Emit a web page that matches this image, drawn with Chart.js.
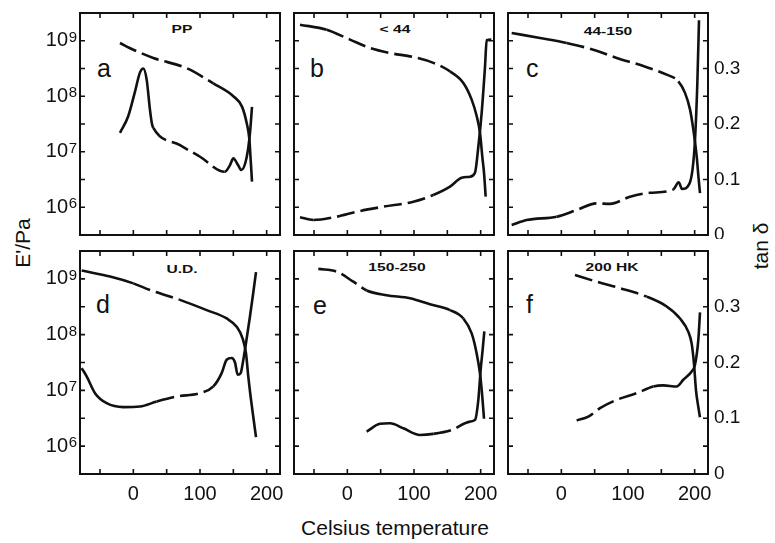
<!DOCTYPE html>
<html>
<head>
<meta charset="utf-8">
<script src="https://cdn.jsdelivr.net/npm/chart.js@4.4.1/dist/chart.umd.min.js"></script>
<style>
  html, body { margin: 0; padding: 0; background: #fff; }
  #page { position: relative; width: 775px; height: 543px; overflow: hidden; font-family: "Liberation Sans", Arial, sans-serif; color: #111; }
  canvas { position: absolute; }
  .lbl { position: absolute; white-space: nowrap; line-height: 1; }
  .letter { font-size: 25px; }
  .title { font-size: 13px; font-weight: bold; transform: translateX(-50%) scale(1.2, 0.8); }
  .axt { font-size: 21px; transform: translate(-50%, -50%); }
  .rot { transform: translate(-50%, -50%) rotate(-90deg); }
</style>
</head>
<body>
<div id="page">
  <div class="lbl letter" style="left:97px;top:56px">a</div>
  <div class="lbl letter" style="left:310px;top:56px">b</div>
  <div class="lbl letter" style="left:526px;top:56px">c</div>
  <div class="lbl letter" style="left:96px;top:292px">d</div>
  <div class="lbl letter" style="left:313px;top:293px">e</div>
  <div class="lbl letter" style="left:526px;top:292px">f</div>

  <div class="lbl title" style="left:182px;top:23px">PP</div>
  <div class="lbl title" style="left:395px;top:23px">&lt; 44</div>
  <div class="lbl title" style="left:608px;top:25px">44-150</div>
  <div class="lbl title" style="left:182px;top:263px">U.D.</div>
  <div class="lbl title" style="left:397px;top:261px">150-250</div>
  <div class="lbl title" style="left:612px;top:261px">200 HK</div>

  <div class="lbl axt rot" style="left:22px;top:243px">E'/Pa</div>
  <div class="lbl axt rot" style="left:760px;top:246px">tan δ</div>
  <div class="lbl axt" style="left:395px;top:527px">Celsius temperature</div>
</div>
<script>
// axis ticks
const xTicks = [0, 100, 200];
const xMarks = [-50, 0, 50, 100, 150, 200];
const modulusTicks = [1e6, 1e7, 1e8, 1e9];
const modulusMarks = [1e6, 3.16e6, 1e7, 3.16e7, 1e8, 3.16e8, 1e9];
const tanTicks = [0, 0.1, 0.2, 0.3];

// a: PP
const aTempE = [-20, 0, 30, 80, 120, 150, 163, 170, 174, 176, 178];
const aModulus = [9.1e8, 6.9e8, 4.9e8, 3.2e8, 1.7e8, 1.0e8, 6.5e7, 3.3e7, 1.7e7, 7.2e6, 2.9e6];
const aTempTan = [-20, -8, 2, 10, 15, 20, 25, 28, 30, 70, 100, 137, 145, 150, 157, 162, 170, 175, 178];
const aTan = [0.184, 0.213, 0.256, 0.293, 0.300, 0.28, 0.225, 0.20, 0.193, 0.162, 0.141, 0.114, 0.126, 0.138, 0.126, 0.117, 0.14, 0.184, 0.231];

// b: < 44
const bTempE = [-71, -31, 4, 34, 64, 99, 129, 154, 174, 186.5, 194, 199, 202.5, 205, 207.5];
const bModulus = [1.95e9, 1.58e9, 1.05e9, 7.4e8, 6.0e8, 5.1e8, 4.0e8, 2.8e8, 1.74e8, 8.7e7, 4.4e7, 2.2e7, 8.1e6, 4.2e6, 1.55e6];
const bTempTan = [-71, -51, -16, 14, 54, 99, 129, 154, 171.5, 184, 191.5, 196.5, 201.5, 206.5, 209, 216];
const bTan = [0.032, 0.027, 0.033, 0.042, 0.051, 0.06, 0.072, 0.087, 0.103, 0.105, 0.112, 0.159, 0.22, 0.303, 0.351, 0.352];

// c: 44-150
const cTempE = [-74.5, -32, 8, 48, 83, 123, 158, 175.5, 185.5, 193, 198, 203, 206, 208];
const cModulus = [1.38e9, 1.12e9, 9.1e8, 6.9e8, 4.9e8, 3.5e8, 2.45e8, 1.86e8, 1.15e8, 5.8e7, 2.5e7, 8.3e6, 3.2e6, 1.8e6];
const cTempTan = [-74.5, -52, -7, 23, 53, 73, 103, 133, 168, 176, 181, 192, 197, 200.5, 204, 206.5];
const cTan = [0.018, 0.027, 0.033, 0.045, 0.057, 0.056, 0.069, 0.076, 0.082, 0.095, 0.083, 0.092, 0.12, 0.171, 0.273, 0.387];

// d: U.D.
const dTempE = [-77.5, -35, 0, 25, 70, 110, 140, 155, 164, 169, 172.5, 176, 180, 184];
const dModulus = [1.41e9, 1.1e9, 8.3e8, 6.3e8, 4.2e8, 2.75e8, 1.95e8, 1.38e8, 8.5e7, 4.6e7, 1.74e7, 7.6e6, 3.3e6, 1.45e6];
const dTempTan = [-77.5, -70, -57.5, -40, -15, 10, 35, 65, 100, 120, 132.5, 140, 147.5, 152.5, 156.5, 161, 165, 169, 175, 180, 184];
const dTan = [0.19, 0.175, 0.145, 0.127, 0.12, 0.121, 0.13, 0.139, 0.145, 0.157, 0.181, 0.205, 0.208, 0.2, 0.178, 0.181, 0.205, 0.235, 0.283, 0.326, 0.362];

// e: 150-250
const eTempE = [-43.5, -16, 9, 29, 59, 94, 124, 154, 174, 186.5, 194, 199, 202.5, 205];
const eModulus = [1.51e9, 1.35e9, 8.9e8, 6.2e8, 5.1e8, 4.5e8, 3.5e8, 2.75e8, 1.95e8, 1.05e8, 4.6e7, 2.0e7, 7.6e6, 3.1e6];
const eTempTan = [29, 49, 64, 84, 109, 129, 156.5, 184, 191.5, 196.5, 200, 203, 205.5];
const eTan = [0.076, 0.09, 0.091, 0.082, 0.07, 0.072, 0.079, 0.094, 0.097, 0.133, 0.187, 0.223, 0.256];

// f: 200 HK
const fTempE = [20.5, 53, 88, 128, 158, 178, 190.5, 195.5, 199, 202, 205.5, 208];
const fModulus = [1.17e9, 8.9e8, 6.8e8, 4.8e8, 3.2e8, 1.95e8, 1.12e8, 6.9e7, 3.0e7, 1.0e7, 5.0e6, 3.3e6];
const fTempTan = [23, 40.5, 58, 83, 113, 138, 153, 173, 183, 195.5, 200.5, 205.5, 208];
const fTan = [0.096, 0.103, 0.118, 0.133, 0.145, 0.157, 0.159, 0.157, 0.169, 0.184, 0.196, 0.241, 0.29];

const panels = [
  { box: [80, 13, 280, 235], left: true, right: false, bottom: false, eT: aTempE, eV: aModulus, tT: aTempTan, tV: aTan, eDash: [[-20, 130]], tDash: [[30, 137]] },
  { box: [294, 13, 494, 235], left: false, right: false, bottom: false, eT: bTempE, eV: bModulus, tT: bTempTan, tV: bTan, eDash: [[-15, 155]], tDash: [[-40, 135]] },
  { box: [508, 13, 708, 235], left: false, right: true, bottom: false, eT: cTempE, eV: cModulus, tT: cTempTan, tV: cTan, eDash: [[5, 175]], tDash: [[-15, 165]] },
  { box: [80, 251, 280, 474], left: true, right: false, bottom: true, eT: dTempE, eV: dModulus, tT: dTempTan, tV: dTan, eDash: [[5, 75]], tDash: [[25, 110]] },
  { box: [294, 251, 494, 474], left: false, right: false, bottom: true, eT: eTempE, eV: eModulus, tT: eTempTan, tV: eTan, eDash: [[-45, 30], [150, 178]], tDash: [[140, 180]] },
  { box: [508, 251, 708, 474], left: false, right: true, bottom: true, eT: fTempE, eV: fModulus, tT: fTempTan, tV: fTan, eDash: [[20, 130]], tDash: [[20, 130]] },
];

const INK = '#111';
const FONT = 'Liberation Sans, Arial, sans-serif';

// frame, inward tick marks, and the exponent of the 10^n labels
const framePlugin = {
  id: 'frame',
  afterDraw(chart) {
    const { ctx, chartArea: a, scales } = chart;
    ctx.save();
    ctx.strokeStyle = INK;
    ctx.lineWidth = 2;
    ctx.strokeRect(a.left, a.top, a.right - a.left, a.bottom - a.top);
    ctx.lineWidth = 1.6;
    ctx.beginPath();
    xMarks.forEach(v => {
      const px = scales.x.getPixelForValue(v);
      ctx.moveTo(px, a.bottom); ctx.lineTo(px, a.bottom - 5);
      ctx.moveTo(px, a.top); ctx.lineTo(px, a.top + 5);
    });
    modulusMarks.forEach(v => {
      const py = scales.y.getPixelForValue(v);
      ctx.moveTo(a.left, py); ctx.lineTo(a.left + 5, py);
      ctx.moveTo(a.right, py); ctx.lineTo(a.right - 5, py);
    });
    ctx.stroke();
    if (chart.options.scales.y.ticks.display) {
      ctx.fillStyle = INK;
      ctx.font = '15px ' + FONT;
      ctx.textAlign = 'right';
      ctx.textBaseline = 'alphabetic';
      modulusTicks.forEach(v => {
        const py = scales.y.getPixelForValue(v);
        ctx.fillText(String(Math.round(Math.log10(v))), a.left - 3, py + 1);
      });
    }
    ctx.restore();
  }
};

function dashed(ranges) {
  return ctx => {
    const mid = (ctx.p0.parsed.x + ctx.p1.parsed.x) / 2;
    return ranges.some(([lo, hi]) => mid >= lo && mid <= hi) ? [18, 6] : undefined;
  };
}

function line(xs, ys, axis, ranges) {
  return {
    data: xs.map((x, i) => ({ x, y: ys[i] })),
    yAxisID: axis,
    borderColor: INK,
    borderWidth: 2.6,
    pointRadius: 0,
    fill: false,
    cubicInterpolationMode: 'monotone',
    segment: { borderDash: dashed(ranges) },
  };
}

const page = document.getElementById('page');
panels.forEach(p => {
  const [x0, y0, x1, y1] = p.box;
  const L = p.left ? 75 : 4, R = p.right ? 50 : 4, T = 4, B = p.bottom ? 45 : 4;
  const cv = document.createElement('canvas');
  cv.width = x1 - x0 + L + R;
  cv.height = y1 - y0 + T + B;
  cv.style.left = (x0 - L) + 'px';
  cv.style.top = (y0 - T) + 'px';
  page.appendChild(cv);

  const tickFont = { family: FONT, size: 20 };
  new Chart(cv, {
    type: 'line',
    data: { datasets: [line(p.eT, p.eV, 'y', p.eDash), line(p.tT, p.tV, 'y2', p.tDash)] },
    options: {
      responsive: false,
      animation: false,
      events: [],
      layout: { padding: { top: T, left: 0, right: 0, bottom: 0 } },
      plugins: { legend: { display: false }, tooltip: { enabled: false } },
      scales: {
        x: {
          type: 'linear', min: -80, max: 220,
          grid: { display: false, drawTicks: false }, border: { display: false },
          ticks: { display: p.bottom, padding: 8, font: tickFont, color: INK, maxRotation: 0, autoSkip: false },
          afterBuildTicks: s => { s.ticks = xTicks.map(v => ({ value: v })); },
          afterFit: s => { s.height = B; s.paddingLeft = 0; s.paddingRight = 0; },
        },
        y: {
          type: 'logarithmic', position: 'left', min: Math.pow(10, 5.5), max: Math.pow(10, 9.5),
          grid: { display: false, drawTicks: false }, border: { display: false },
          ticks: { display: p.left, padding: 12, font: tickFont, color: INK, callback: () => '10' },
          afterBuildTicks: s => { s.ticks = modulusTicks.map(v => ({ value: v })); },
          afterFit: s => { s.width = L; s.paddingTop = 0; s.paddingBottom = 0; },
        },
        y2: {
          type: 'linear', position: 'right', min: 0, max: 0.4,
          grid: { display: false, drawTicks: false }, border: { display: false },
          ticks: { display: p.right, padding: 6, font: { family: FONT, size: 19 }, color: INK,
            callback: v => v === 0 ? '0' : v.toFixed(1) },
          afterBuildTicks: s => { s.ticks = tanTicks.map(v => ({ value: v })); },
          afterFit: s => { s.width = R; s.paddingTop = 0; s.paddingBottom = 0; },
        },
      },
    },
    plugins: [framePlugin],
  });
});
</script>
</body>
</html>
